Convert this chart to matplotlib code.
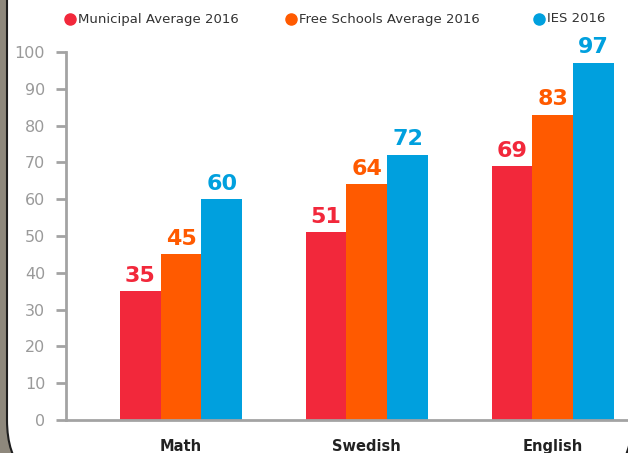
import matplotlib.pyplot as plt
import numpy as np
from matplotlib.patches import FancyBboxPatch
from matplotlib.lines import Line2D

# ========== Data ==========
subjects = ["Math", "Swedish", "English"]
series_names = ["Municipal Average 2016", "Free Schools Average 2016", "IES 2016"]
municipal = [35, 51, 69]
free_schools = [45, 64, 83]
ies = [60, 72, 97]
series_values = [municipal, free_schools, ies]
series_colors = ["#f2283b", "#ff5a00", "#00a0de"]
yticks = [0, 10, 20, 30, 40, 50, 60, 70, 80, 90, 100]

# ========== Figure ==========
fig = plt.figure(figsize=(6.28, 4.53), dpi=100)
fig.patch.set_facecolor("#8e887c")

# white rounded panel sitting on the photo background (inch coordinates)
panel = FancyBboxPatch((0.07, -0.37), 6.25, 6.0,
                       boxstyle="round,pad=0,rounding_size=0.7",
                       transform=fig.dpi_scale_trans, facecolor="white",
                       edgecolor="#1e1e1e", linewidth=1.5, zorder=-5)
fig.add_artist(panel)

ax = fig.add_axes([66 / 628, 33 / 453, 562 / 628, 368 / 453])
ax.patch.set_alpha(0)
ax.set_zorder(2)

x = np.arange(len(subjects))
width = 0.219
offsets = [-width, 0, width]

for vals, name, color, off in zip(series_values, series_names, series_colors, offsets):
    bars = ax.bar(x + off, vals, width, color=color, label=name, zorder=2)
    for b, v in zip(bars, vals):
        ax.annotate(str(v), (b.get_x() + b.get_width() / 2, v),
                    xytext=(0, 4), textcoords="offset points",
                    ha="center", va="bottom", fontsize=16, fontweight="bold",
                    color=color, annotation_clip=False)

ax.set_xlim(-0.619, 2.406)
ax.set_ylim(0, 100)
ax.set_yticks(yticks)

grey = "#a3a3a3"
for side in ["top", "right"]:
    ax.spines[side].set_visible(False)
ax.spines["left"].set_color(grey)
ax.spines["bottom"].set_color(grey)
ax.spines["left"].set_linewidth(2)
ax.spines["bottom"].set_linewidth(2)

ax.tick_params(axis="y", colors=grey, labelcolor="#9a9a9a", length=7,
               width=2, pad=8, labelsize=11.5)
ax.set_xticks(x)
ax.set_xticklabels(subjects, fontsize=10.5, fontweight="bold", color="#222222")
ax.tick_params(axis="x", length=0, pad=14)

# legend: round markers with labels across the top
legend_x = [70 / 628, 291 / 628, 539 / 628]
legend_y = 1 - 19 / 453
for lx, name, color in zip(legend_x, series_names, series_colors):
    fig.add_artist(Line2D([lx], [legend_y], marker="o", linestyle="none",
                          markersize=8, markerfacecolor=color,
                          markeredgecolor=color, transform=fig.transFigure))
    fig.text(lx + 8 / 628, legend_y, name, fontsize=9.5, color="#333333",
             ha="left", va="center")

fig.savefig("out.png", dpi=100, facecolor=fig.get_facecolor())
